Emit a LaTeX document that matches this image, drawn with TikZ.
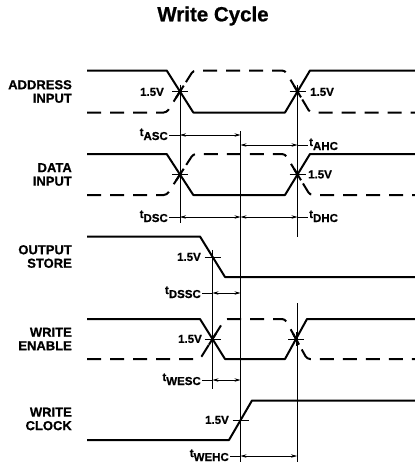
\documentclass[tikz,border=0pt]{standalone}
\usepackage{fontspec}
\setmainfont{Liberation Sans}[BoldFeatures={FakeBold=0.8}]
\usetikzlibrary{arrows.meta,calc}
\newcommand\tsub[1]{t\raisebox{-4pt}{#1}}
\newcommand\twosig[6]{%
  \draw[sig] (87,#1) -- (#3,#1) -- (#4,#2) -- (#5,#2) -- (#6,#1) -- (415,#1);
  \draw[dsig] (87,#2) -- (#3,#2) -- (#4,#1) -- (#5,#1) -- (#6,#2) -- (415,#2);
  \draw[sig] ($(#3,#2)!0.36!(#4,#1)$) -- ($(#3,#2)!0.64!(#4,#1)$);
  \draw[sig] ($(#5,#1)!0.36!(#6,#2)$) -- ($(#5,#1)!0.64!(#6,#2)$);
}
\begin{document}
\begin{tikzpicture}[x=1pt,y=-1pt,
  sig/.style={line width=2pt, line join=round},
  dsig/.style={line width=2pt, dash pattern=on 14pt off 9pt, rounded corners=3pt},
  hair/.style={line width=0.6pt},
  dimarrow/.style={line width=0.6pt, {Stealth[length=6pt,width=3.4pt]}-{Stealth[length=6pt,width=3.4pt]}},
  lab/.style={font=\fontsize{13}{13.5}\selectfont\bfseries, align=right, anchor=east, inner sep=0pt},
  volt/.style={font=\fontsize{11.5}{12}\selectfont\bfseries, inner sep=0pt},
  tlab/.style={font=\fontsize{11.5}{12}\selectfont\bfseries, inner sep=0pt},
  tick/.style={line width=0.6pt},
]
\useasboundingbox (0,0) rectangle (415,464);

% title
\node[font=\fontsize{20.5}{22}\selectfont\bfseries] (title) at (213,16) {Write Cycle};

% signal names
\node[lab] (lA) at (72,91.5) {ADDRESS\\INPUT};
\node[lab] (lD) at (72,174.5) {DATA\\INPUT};
\node[lab] (lO) at (72,256.5) {OUTPUT\\STORE};
\node[lab] (lW) at (72,339) {WRITE\\ENABLE};
\node[lab] (lC) at (72,419) {WRITE\\CLOCK};

% waveforms
\twosig{70.5}{112.5}{166.7}{193.3}{285}{310}
\twosig{154}{195}{166.7}{193.3}{285}{310}
\draw[sig] (87,236.5) -- (200,236.5) -- (225,277) -- (415,277);
\twosig{319}{359}{200}{225}{285}{307}
\draw[sig] (87,440) -- (229,440) -- (252,400.5) -- (415,400.5);

% crossing points
\coordinate (A1) at (180,91.5);
\coordinate (A2) at (297.5,91.5);
\coordinate (D1) at (180,174.5);
\coordinate (D2) at (297.5,174.5);
\coordinate (O1) at (212.5,256.8);
\coordinate (W1) at (212.5,339);
\coordinate (W2) at (296,339);
\coordinate (C1) at (240.5,420);
\foreach \p in {A1,A2,D1,D2,O1,W1,W2,C1}{
  \draw[tick] ($(\p)+(-8,0)$) -- ($(\p)+(8,0)$);
  \draw[tick] ($(\p)+(0,-7)$) -- ($(\p)+(0,7)$);
}

% reference lines
\coordinate (v1a) at (180,223);
\coordinate (v2a) at (297.5,237);
\coordinate (v3t) at (240.5,131);
\coordinate (v3b) at (240.5,462);
\coordinate (v4b) at (212.5,389);
\coordinate (v5t) at (297,303);
\coordinate (v5b) at (297,462);
\draw[hair] (A1) -- (v1a);
\draw[hair] (A2) -- (v2a);
\draw[hair] (v3t) -- (v3b);
\draw[hair] (O1) -- (v4b);
\draw[hair] (v5t) -- (v5b);

% 1.5V labels
\node[volt, anchor=east] (vA1) at (164,92) {1.5V};
\node[volt, anchor=west] (vA2) at (310,92) {1.5V};
\node[volt, anchor=west] (vD2) at (308,174.5) {1.5V};
\node[volt, anchor=east] (vO1) at (201,257) {1.5V};
\node[volt, anchor=east] (vW1) at (202,339) {1.5V};
\node[volt, anchor=east] (vC1) at (229,420) {1.5V};

% timing dimensions
% tASC
\coordinate (asL) at (169,135); \coordinate (asA) at (180,135); \coordinate (asB) at (240.5,135);
\draw[hair] (asL) -- (asA);
\draw[dimarrow] (asA) -- (asB);
\node[tlab, anchor=base east] (tASC) at (168,136) {\tsub{ASC}};
% tAHC
\coordinate (ahA) at (240.5,145); \coordinate (ahB) at (297.5,145); \coordinate (ahR) at (308,145);
\draw[dimarrow] (ahA) -- (ahB);
\draw[hair] (ahB) -- (ahR);
\node[tlab, anchor=base west] (tAHC) at (309,146) {\tsub{AHC}};
% tDSC
\coordinate (dsL) at (169,217); \coordinate (dsA) at (180,217); \coordinate (dsB) at (240.5,217);
\draw[hair] (dsL) -- (dsA);
\draw[dimarrow] (dsA) -- (dsB);
\node[tlab, anchor=base east] (tDSC) at (168,218) {\tsub{DSC}};
% tDHC
\coordinate (dhB) at (297.5,217); \coordinate (dhR) at (308,217);
\draw[dimarrow] (dsB) -- (dhB);
\draw[hair] (dhB) -- (dhR);
\node[tlab, anchor=base west] (tDHC) at (309,218) {\tsub{DHC}};
% tDSSC
\coordinate (ssL) at (202,293); \coordinate (ssA) at (212.5,293); \coordinate (ssB) at (240.5,293);
\draw[hair] (ssL) -- (ssA);
\draw[dimarrow] (ssA) -- (ssB);
\node[tlab, anchor=base east] (tDSSC) at (201,294) {\tsub{DSSC}};
% tWESC
\coordinate (weL) at (202,380); \coordinate (weA) at (212.5,380); \coordinate (weB) at (240.5,380);
\draw[hair] (weL) -- (weA);
\draw[dimarrow] (weA) -- (weB);
\node[tlab, anchor=base east] (tWESC) at (201,381) {\tsub{WESC}};
% tWEHC
\coordinate (whL) at (230,456); \coordinate (whA) at (240.5,456); \coordinate (whB) at (297,456);
\draw[hair] (whL) -- (whA);
\draw[dimarrow] (whA) -- (whB);
\node[tlab, anchor=base east] (tWEHC) at (229,457) {\tsub{WEHC}};
\end{tikzpicture}
\end{document}
